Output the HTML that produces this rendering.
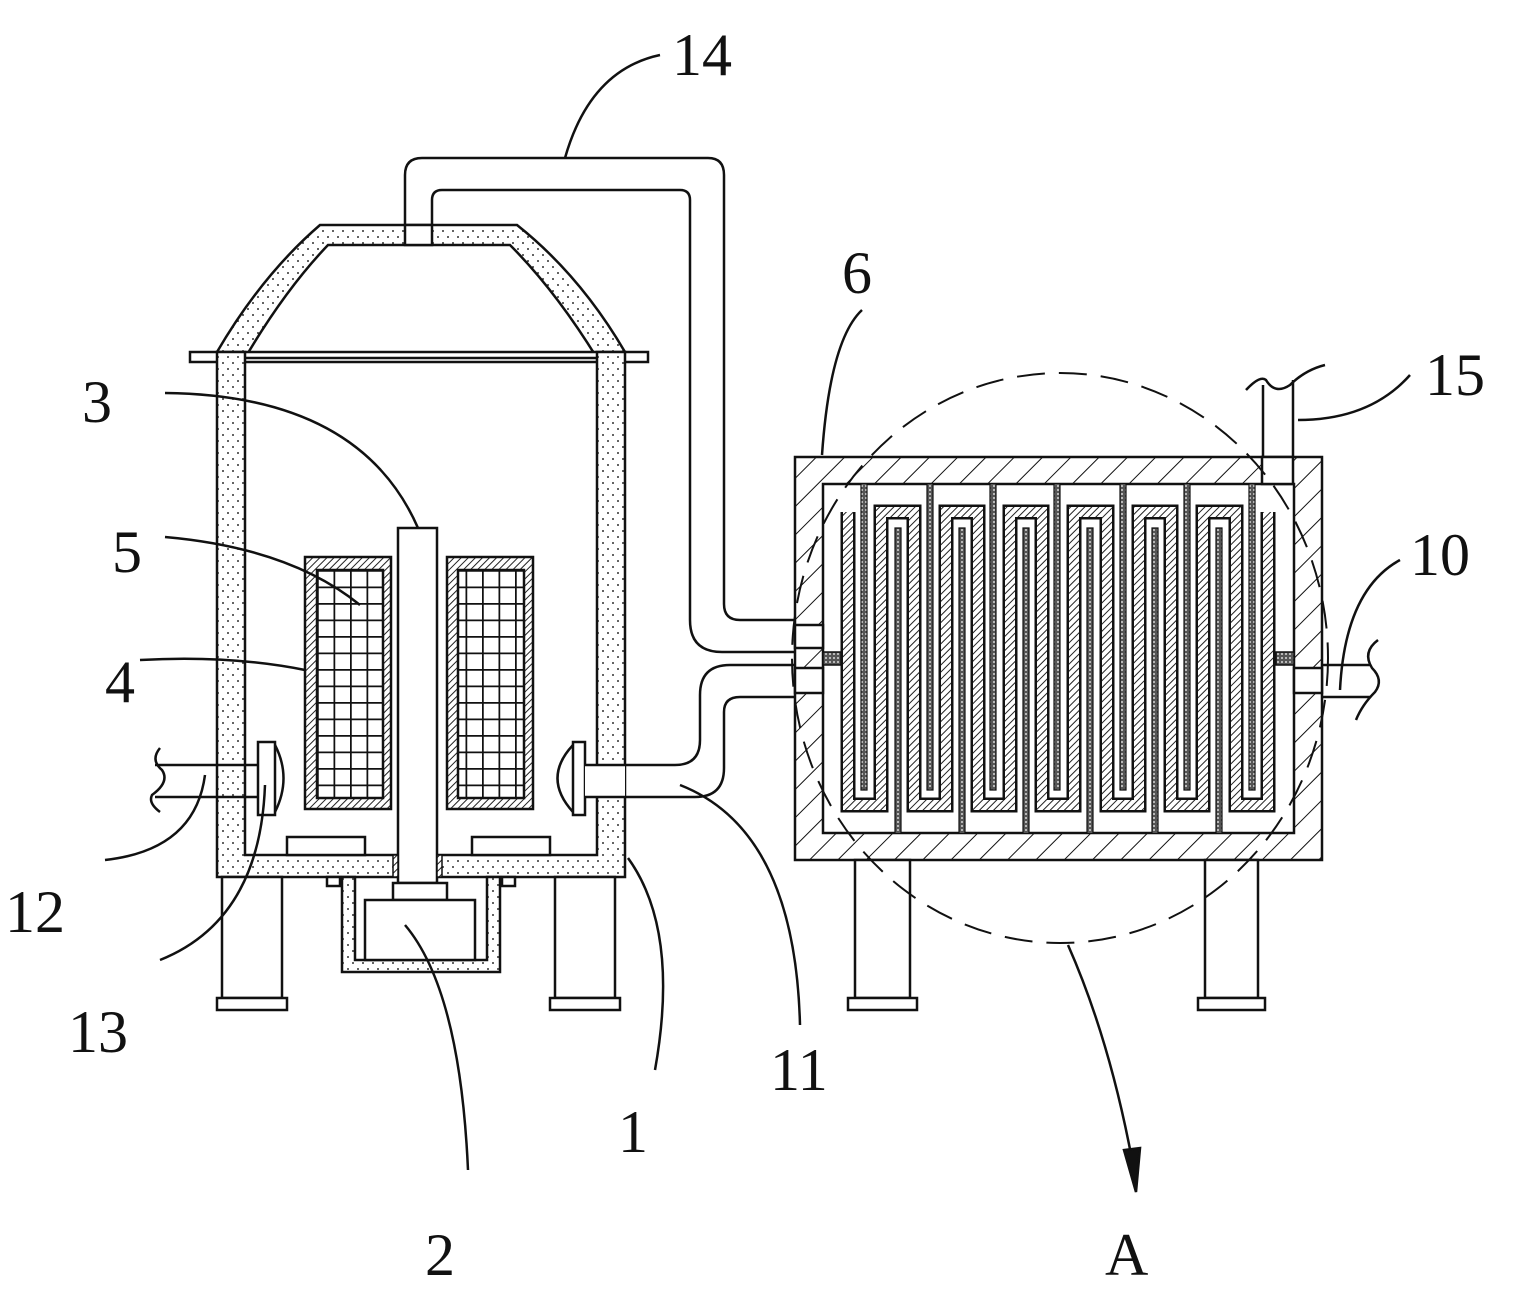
<!DOCTYPE html>
<html><head><meta charset="utf-8"><style>
html,body{margin:0;padding:0;background:#fff;}
svg{display:block;}
text{font-family:"Liberation Serif",serif;font-size:60px;fill:#111;}
</style></head><body>
<svg width="1520" height="1294" viewBox="0 0 1520 1294" xmlns="http://www.w3.org/2000/svg">
<defs>
<pattern id="hatch" width="20" height="20" patternUnits="userSpaceOnUse" patternTransform="rotate(45)">
<rect width="20" height="20" fill="#fff"/><line x1="0" y1="0" x2="0" y2="20" stroke="#111" stroke-width="2"/></pattern>
<pattern id="fhatch" width="5" height="5" patternUnits="userSpaceOnUse" patternTransform="rotate(45)">
<rect width="5" height="5" fill="#fff"/><line x1="0" y1="0" x2="0" y2="5" stroke="#222" stroke-width="2"/></pattern>
<pattern id="dots" width="10" height="12" patternUnits="userSpaceOnUse">
<rect width="10" height="12" fill="#fff"/><circle cx="3" cy="3" r="1" fill="#333"/><circle cx="8" cy="9" r="1" fill="#333"/></pattern>
<pattern id="ddots" width="4" height="4" patternUnits="userSpaceOnUse">
<rect width="4" height="4" fill="#555"/><circle cx="2" cy="2" r="0.9" fill="#fff"/></pattern>
<pattern id="grid" width="16.5" height="16.5" patternUnits="userSpaceOnUse" x="317" y="570">
<rect width="16.5" height="16.5" fill="#fff"/><path d="M0 0H16.5M0 0V16.5" stroke="#111" stroke-width="3.5" fill="none"/></pattern>
</defs>
<g stroke="#111" stroke-width="2.5" fill="none">
<path d="M405 225 V175 Q405 158 422 158 H708 Q724 158 724 175 V604 Q724 620 740 620 H797"/>
<path d="M432 225 V200 Q432 190 442 190 H680 Q690 190 690 200 V620 Q690 652 722 652 H797"/>
<path d="M625 765 H675 Q700 765 700 740 V695 Q700 665 730 665 H797"/>
<path d="M625 797 H695 Q724 797 724 768 V712 Q724 697 740 697 H797"/>
<path d="M217 352 Q262 275 320 225 H517 Q580 275 625 352 L597 358 Q555 290 510 245 H328 Q285 290 245 358 Z" fill="url(#dots)"/>
<rect x="405" y="225" width="27" height="20" fill="#fff"/>
<rect x="190" y="352" width="458" height="10" fill="#fff"/>
<path d="M217 352 H245 V855 H597 V352 H625 V877 H217 Z" fill="url(#dots)"/>
<line x1="245" y1="358" x2="597" y2="358"/>
<rect x="287" y="837" width="78" height="18" fill="#fff"/>
<rect x="472" y="837" width="78" height="18" fill="#fff"/>
<rect x="305" y="557" width="86" height="252" fill="url(#fhatch)"/>
<rect x="317" y="570" width="66" height="228" fill="url(#grid)"/>
<rect x="447" y="557" width="86" height="252" fill="url(#fhatch)"/>
<rect x="458" y="570" width="66" height="228" fill="url(#grid)"/>
<rect x="398" y="528" width="39" height="355" fill="#fff"/>
<rect x="393" y="855" width="5" height="22" fill="url(#fhatch)" stroke-width="1.5"/>
<rect x="437" y="855" width="5" height="22" fill="url(#fhatch)" stroke-width="1.5"/>
<path d="M342 877 V972 H500 V877 H487 V960 H355 V877 Z" fill="url(#dots)"/>
<rect x="393" y="883" width="54" height="17" fill="#fff"/>
<rect x="365" y="900" width="110" height="60" fill="#fff"/>
<rect x="327" y="877" width="13" height="9" fill="#fff"/>
<rect x="502" y="877" width="13" height="9" fill="#fff"/>
<rect x="222" y="877" width="60" height="121" fill="#fff"/>
<rect x="217" y="998" width="70" height="12" fill="#fff"/>
<rect x="555" y="877" width="60" height="121" fill="#fff"/>
<rect x="550" y="998" width="70" height="12" fill="#fff"/>
<path d="M155 765 H258 M155 797 H258"/>
<path d="M160 748 Q150 760 162 770 Q170 782 152 795 Q148 803 160 812"/>
<rect x="258" y="742" width="17" height="73" fill="#fff"/>
<path d="M275 745 Q292 778 275 812"/>
<rect x="573" y="742" width="12" height="73" fill="#fff"/>
<path d="M573 745 Q542 778 573 812"/>
<rect x="585" y="765" width="40" height="32" fill="#fff" stroke="none"/>
<path d="M585 765 H625 M585 797 H625"/>
<path d="M795 457 H1322 V860 H795 Z M823 484 V833 H1294 V484 Z" fill="url(#hatch)" fill-rule="evenodd"/>
<rect x="795" y="625" width="28" height="23" fill="#fff"/>
<rect x="795" y="668" width="28" height="25" fill="#fff"/>
<rect x="1294" y="668" width="28" height="25" fill="#fff"/>
<rect x="1262" y="457" width="31" height="27" fill="#fff"/>
<rect x="823" y="652" width="18" height="13" fill="url(#ddots)" stroke-width="1.5"/>
<rect x="1276" y="652" width="18" height="13" fill="url(#ddots)" stroke-width="1.5"/>
<path d="M1263 457 V385 M1293 457 V380"/>
<path d="M1246 390 Q1260 375 1266 380 Q1275 395 1290 385 Q1305 370 1325 365"/>
<path d="M1322 665 H1370 M1322 697 H1370"/>
<path d="M1378 640 Q1362 652 1372 668 Q1384 680 1375 692 Q1362 705 1356 720"/>
<path d="M848 512 V805 H881 V512 H914 V805 H946 V512 H978 V805 H1010 V512 H1042 V805 H1074 V512 H1107 V805 H1139 V512 H1171 V805 H1203 V512 H1236 V805 H1268 V512" stroke="#111" stroke-width="15" stroke-linejoin="miter"/>
<path d="M848 512 V805 H881 V512 H914 V805 H946 V512 H978 V805 H1010 V512 H1042 V805 H1074 V512 H1107 V805 H1139 V512 H1171 V805 H1203 V512 H1236 V805 H1268 V512" stroke="url(#fhatch)" stroke-width="10"/>
<g stroke="url(#ddots)" stroke-width="6">
<path d="M864 484V790M930 484V790M993 484V790M1057 484V790M1123 484V790M1187 484V790M1252 484V790"/>
<path d="M898 528V833M962 528V833M1026 528V833M1090 528V833M1155 528V833M1219 528V833"/>
</g>
<g stroke-width="1.2">
<path d="M861 484V790H867V484M927 484V790H933V484M990 484V790H996V484M1054 484V790H1060V484M1120 484V790H1126V484M1184 484V790H1190V484M1249 484V790H1255V484"/>
<path d="M895 833V528H901V833M959 833V528H965V833M1023 833V528H1029V833M1087 833V528H1093V833M1152 833V528H1158V833M1216 833V528H1222V833"/>
</g>
<rect x="855" y="860" width="55" height="138" fill="#fff"/>
<rect x="848" y="998" width="69" height="12" fill="#fff"/>
<rect x="1205" y="860" width="53" height="138" fill="#fff"/>
<rect x="1198" y="998" width="67" height="12" fill="#fff"/>
<ellipse cx="1060" cy="658" rx="268" ry="285" stroke-dasharray="28 14" stroke-width="2"/>
<path d="M1068 945 Q1110 1040 1133 1165"/>
<path d="M1124 1150 L1136 1192 L1140 1148 Z" fill="#111"/>
<path d="M565 158 Q590 70 660 55"/>
<path d="M822 455 Q830 340 862 310"/>
<path d="M1298 420 Q1370 420 1410 375"/>
<path d="M1340 690 Q1345 590 1400 560"/>
<path d="M165 393 Q360 395 418 528"/>
<path d="M165 537 Q290 548 360 605"/>
<path d="M140 660 Q230 655 305 670"/>
<path d="M105 860 Q195 850 205 775"/>
<path d="M160 960 Q260 920 265 785"/>
<path d="M655 1070 Q680 930 628 858"/>
<path d="M800 1025 Q795 830 680 785"/>
<path d="M468 1170 Q460 990 405 925"/>
</g>
<text x="672" y="75">14</text>
<text x="842" y="293">6</text>
<text x="1425" y="395">15</text>
<text x="1410" y="575">10</text>
<text x="82" y="422">3</text>
<text x="112" y="572">5</text>
<text x="105" y="702">4</text>
<text x="5" y="932">12</text>
<text x="68" y="1052">13</text>
<text x="618" y="1152">1</text>
<text x="770" y="1090">11</text>
<text x="425" y="1275">2</text>
<text x="1105" y="1275">A</text>
</svg>
</body></html>
